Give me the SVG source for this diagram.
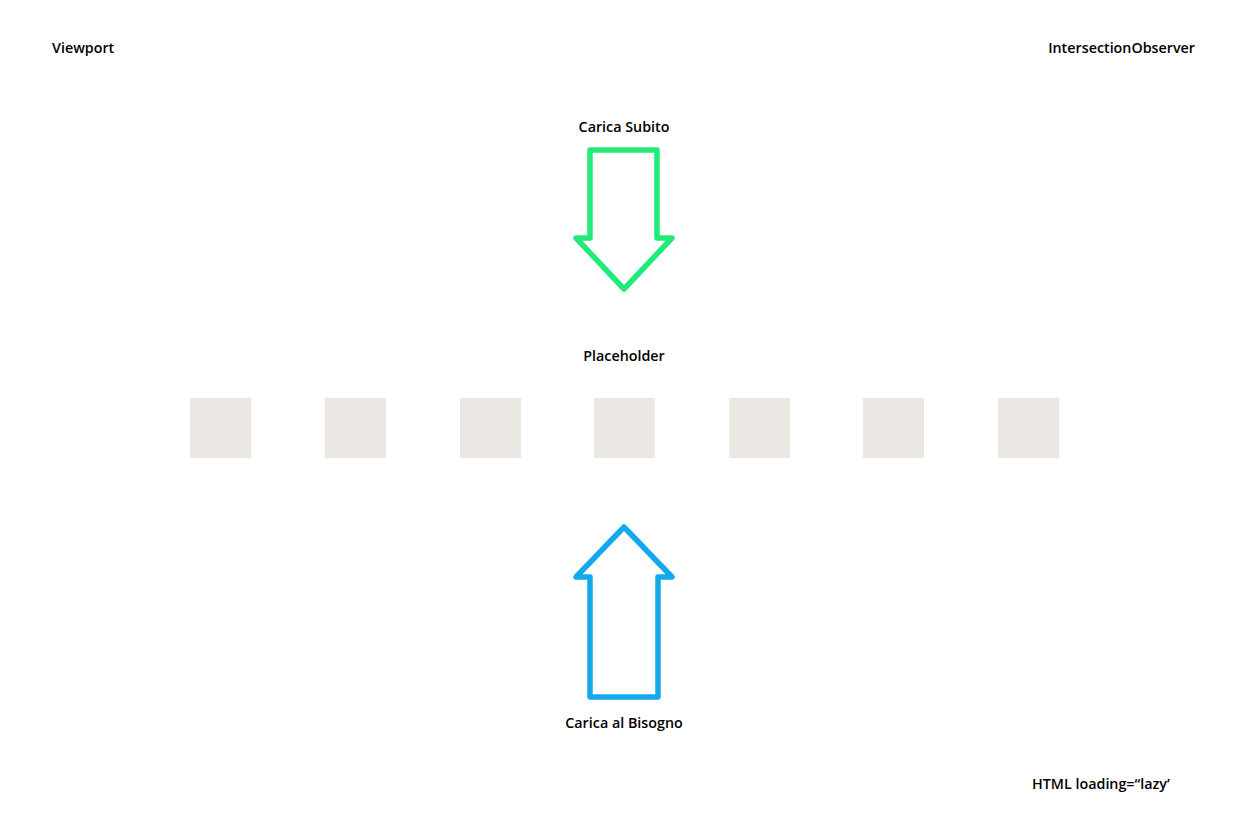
<svg xmlns="http://www.w3.org/2000/svg" width="1248" height="832" viewBox="0 0 1248 832">
<style>
.lbl{font-family:"Open Sans","Liberation Sans",sans-serif;font-weight:600;font-size:14.3px;fill:#000}
.ph{fill:#ebe8e3}
.arr{fill:none;stroke-width:5.5;stroke-linejoin:round;stroke-linecap:round}
</style>
<rect width="1248" height="832" fill="#ffffff"/>
<g id="viewport"><text class="lbl" x="52" y="53">Viewport</text></g>
<g id="observer"><text class="lbl" x="1195" y="53" text-anchor="end">IntersectionObserver</text></g>
<g id="carica-subito">
<text class="lbl" x="624" y="132" text-anchor="middle">Carica Subito</text>
<path class="arr" stroke="#22ea78" d="M590,150 L657,150 L657,238 L672,238 L624,289 L576,238 L590,238 Z"/>
</g>
<g id="placeholder">
<text class="lbl" x="624" y="361" text-anchor="middle">Placeholder</text>
<rect class="ph" x="190" y="398" width="61" height="60"/>
<rect class="ph" x="325" y="398" width="61" height="60"/>
<rect class="ph" x="460" y="398" width="61" height="60"/>
<rect class="ph" x="594" y="398" width="61" height="60"/>
<rect class="ph" x="729" y="398" width="61" height="60"/>
<rect class="ph" x="863" y="398" width="61" height="60"/>
<rect class="ph" x="998" y="398" width="61" height="60"/>
</g>
<g id="carica-bisogno">
<path class="arr" stroke="#14a9ec" d="M624,527 L672,577 L658,577 L658,697 L590,697 L590,577 L576,577 Z"/>
<text class="lbl" x="624" y="728" text-anchor="middle">Carica al Bisogno</text>
</g>
<g id="html-lazy"><text class="lbl" x="1032" y="789">HTML loading=“lazy’</text></g>
<g id="connectors"></g>
</svg>
